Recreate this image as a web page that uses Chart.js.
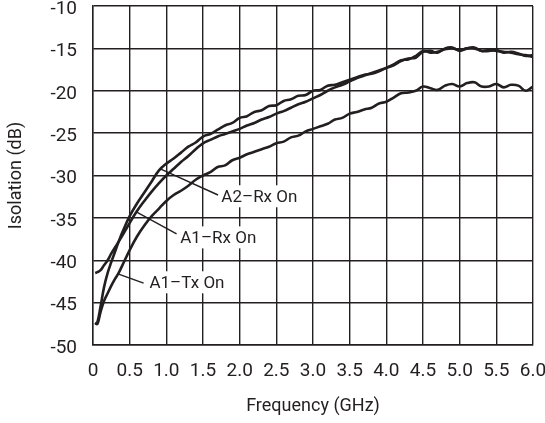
<!DOCTYPE html>
<html>
<head>
<meta charset="utf-8">
<script src="https://cdn.jsdelivr.net/npm/chart.js@4.4.1/dist/chart.umd.min.js"></script>
<style>
  html, body { margin: 0; padding: 0; background: #ffffff; }
  #wrap { width: 545px; height: 423px; }
</style>
</head>
<body>
<div id="wrap"><canvas id="c" width="545" height="423"></canvas></div>
<script>
// Frequency points (GHz)
const freq = [0.03, 0.06, 0.1, 0.15, 0.2, 0.25, 0.3, 0.35, 0.4,
  0.5, 0.6, 0.7, 0.8, 0.9, 1.0, 1.1, 1.2, 1.3, 1.4, 1.5, 1.6, 1.7, 1.8, 1.9, 2.0,
  2.1, 2.2, 2.3, 2.4, 2.5, 2.6, 2.7, 2.8, 2.9, 3.0, 3.1, 3.2, 3.3, 3.4, 3.5,
  3.6, 3.7, 3.8, 3.9, 4.0, 4.1, 4.2, 4.3, 4.4, 4.5, 4.6, 4.7, 4.8, 4.9, 5.0,
  5.1, 5.2, 5.3, 5.4, 5.5, 5.6, 5.7, 5.8, 5.9, 6.0];

// Isolation (dB)
const a2RxOn = [-47.6, -47.3, -45.6, -43.2, -41.5, -40.2, -39.0, -37.8, -36.7,
  -34.8, -33.3, -32.0, -30.7, -29.4, -28.6, -28.0, -27.3, -26.6, -26.1, -25.4, -25.1, -24.6, -24.1, -23.8, -23.2,
  -23.0, -22.5, -22.3, -21.8, -21.7, -21.2, -21.0, -20.6, -20.5, -20.0, -19.9, -19.4, -19.3, -19.0, -18.7,
  -18.4, -18.1, -18.0, -17.7, -17.3, -17.0, -16.5, -16.2, -16.1, -15.4, -15.3, -15.5, -15.0, -14.9, -15.3,
  -15.0, -14.9, -15.3, -15.3, -15.2, -15.5, -15.4, -15.6, -15.9, -15.8];

const a1RxOn = [-41.5, -41.4, -41.2, -40.6, -40.0, -39.2, -38.5, -37.8, -37.1,
  -35.6, -34.2, -33.0, -31.9, -30.9, -30.0, -29.2, -28.4, -27.7, -26.9, -26.2, -25.8, -25.4, -25.1, -24.8, -24.5,
  -24.1, -23.8, -23.4, -23.1, -22.7, -22.4, -22.0, -21.6, -21.3, -20.9, -20.5, -20.0, -19.6, -19.3, -18.9,
  -18.5, -18.2, -17.9, -17.6, -17.3, -16.9, -16.4, -16.3, -15.9, -15.3, -15.5, -15.4, -15.1, -15.0, -15.2,
  -15.0, -15.0, -15.3, -15.2, -15.3, -15.4, -15.5, -15.7, -15.8, -16.0];

const a1TxOn = [-47.4, -47.5, -46.2, -44.8, -43.9, -43.0, -42.2, -41.5, -40.6,
  -38.8, -37.2, -35.9, -34.8, -33.9, -33.0, -32.3, -31.8, -31.2, -30.5, -30.0, -29.6, -29.0, -28.8, -28.2, -27.9,
  -27.5, -27.2, -26.9, -26.6, -26.2, -26.0, -25.5, -25.3, -24.8, -24.5, -24.2, -23.9, -23.4, -23.2, -22.7,
  -22.5, -22.2, -22.0, -21.5, -21.3, -20.8, -20.3, -20.2, -20.0, -19.5, -19.7, -19.9, -19.4, -19.2, -19.5,
  -19.1, -19.0, -19.5, -19.5, -19.2, -19.6, -19.3, -19.4, -20.0, -19.5];

const seriesNames = ['A2\u2013Rx On', 'A1\u2013Rx On', 'A1\u2013Tx On'];
const xTickLabels = ['0', '0.5', '1.0', '1.5', '2.0', '2.5', '3.0', '3.5', '4.0', '4.5', '5.0', '5.5', '6.0'];
const yTickLabels = ['-50', '-45', '-40', '-35', '-30', '-25', '-20', '-15', '-10'];

const INK = '#231f20';
const FONT = 'Roboto, "Liberation Sans", Arial, sans-serif';
const toXY = (ys) => ys.map((y, i) => ({x: freq[i], y: y}));

const calloutPlugin = {
  id: 'callouts',
  afterDatasetsDraw(chart) {
    const {ctx, scales: {x, y}} = chart;
    const callouts = [
      {text: seriesNames[0], from: [0.91, -29.2], to: [1.705, -32.3], tx: 1.75, ty: -32.45},
      {text: seriesNames[1], from: [0.59, -34.3], to: [1.14, -36.9], tx: 1.19, ty: -37.3},
      {text: seriesNames[2], from: [0.34, -41.6], to: [0.69, -42.7], tx: 0.77, ty: -42.6}
    ];
    ctx.save();
    ctx.font = '17px ' + FONT;
    ctx.textBaseline = 'middle';
    ctx.textAlign = 'left';
    callouts.forEach(c => {
      const px = x.getPixelForValue(c.tx);
      const py = y.getPixelForValue(c.ty);
      const w = ctx.measureText(c.text).width;
      ctx.fillStyle = '#ffffff';
      ctx.fillRect(px - 3, py - 11, w + 6, 22);
      ctx.fillStyle = INK;
      ctx.fillText(c.text, px, py + 1);
      ctx.strokeStyle = INK;
      ctx.lineWidth = 1.4;
      ctx.beginPath();
      ctx.moveTo(x.getPixelForValue(c.from[0]), y.getPixelForValue(c.from[1]));
      ctx.lineTo(x.getPixelForValue(c.to[0]), y.getPixelForValue(c.to[1]));
      ctx.stroke();
    });
    ctx.restore();
  }
};

const mkDs = (label, ys) => ({
  label: label,
  data: toXY(ys),
  borderColor: INK,
  borderWidth: 2.6,
  pointRadius: 0,
  tension: 0.4,
  fill: false
});

new Chart(document.getElementById('c'), {
  type: 'line',
  data: {
    datasets: [mkDs(seriesNames[0], a2RxOn), mkDs(seriesNames[1], a1RxOn), mkDs(seriesNames[2], a1TxOn)]
  },
  options: {
    responsive: false,
    animation: false,
    devicePixelRatio: 1,
    layout: {padding: {left: 0, right: 12, top: 6, bottom: 0}},
    plugins: {legend: {display: false}, tooltip: {enabled: false}},
    scales: {
      x: {
        type: 'linear',
        min: 0, max: 6,
        border: {display: true, color: INK, width: 1.4},
        grid: {color: INK, lineWidth: 1.4, drawTicks: false},
        ticks: {
          stepSize: 0.5,
          padding: 15,
          color: INK,
          font: {family: FONT, size: 19},
          maxRotation: 0,
          autoSkip: false,
          callback: (v, i) => xTickLabels[i]
        },
        title: {
          display: true,
          text: 'Frequency (GHz)',
          color: INK,
          font: {family: FONT, size: 18},
          padding: {top: 0, bottom: 6}
        },
        afterFit: (s) => { s.height = 78; s.paddingLeft = 0; s.paddingRight = 0; }
      },
      y: {
        type: 'linear',
        min: -50, max: -10,
        border: {display: true, color: INK, width: 1.4},
        grid: {color: INK, lineWidth: 1.4, drawTicks: false},
        ticks: {
          stepSize: 5,
          padding: 16,
          labelOffset: 3,
          color: INK,
          font: {family: FONT, size: 19},
          callback: (v, i) => yTickLabels[i]
        },
        title: {
          display: true,
          text: 'Isolation (dB)',
          color: INK,
          font: {family: FONT, size: 18},
          padding: {top: 6, bottom: 0}
        },
        afterFit: (s) => { s.width = 93; s.paddingTop = 0; s.paddingBottom = 0; }
      }
    }
  },
  plugins: [calloutPlugin]
});
</script>
</body>
</html>
